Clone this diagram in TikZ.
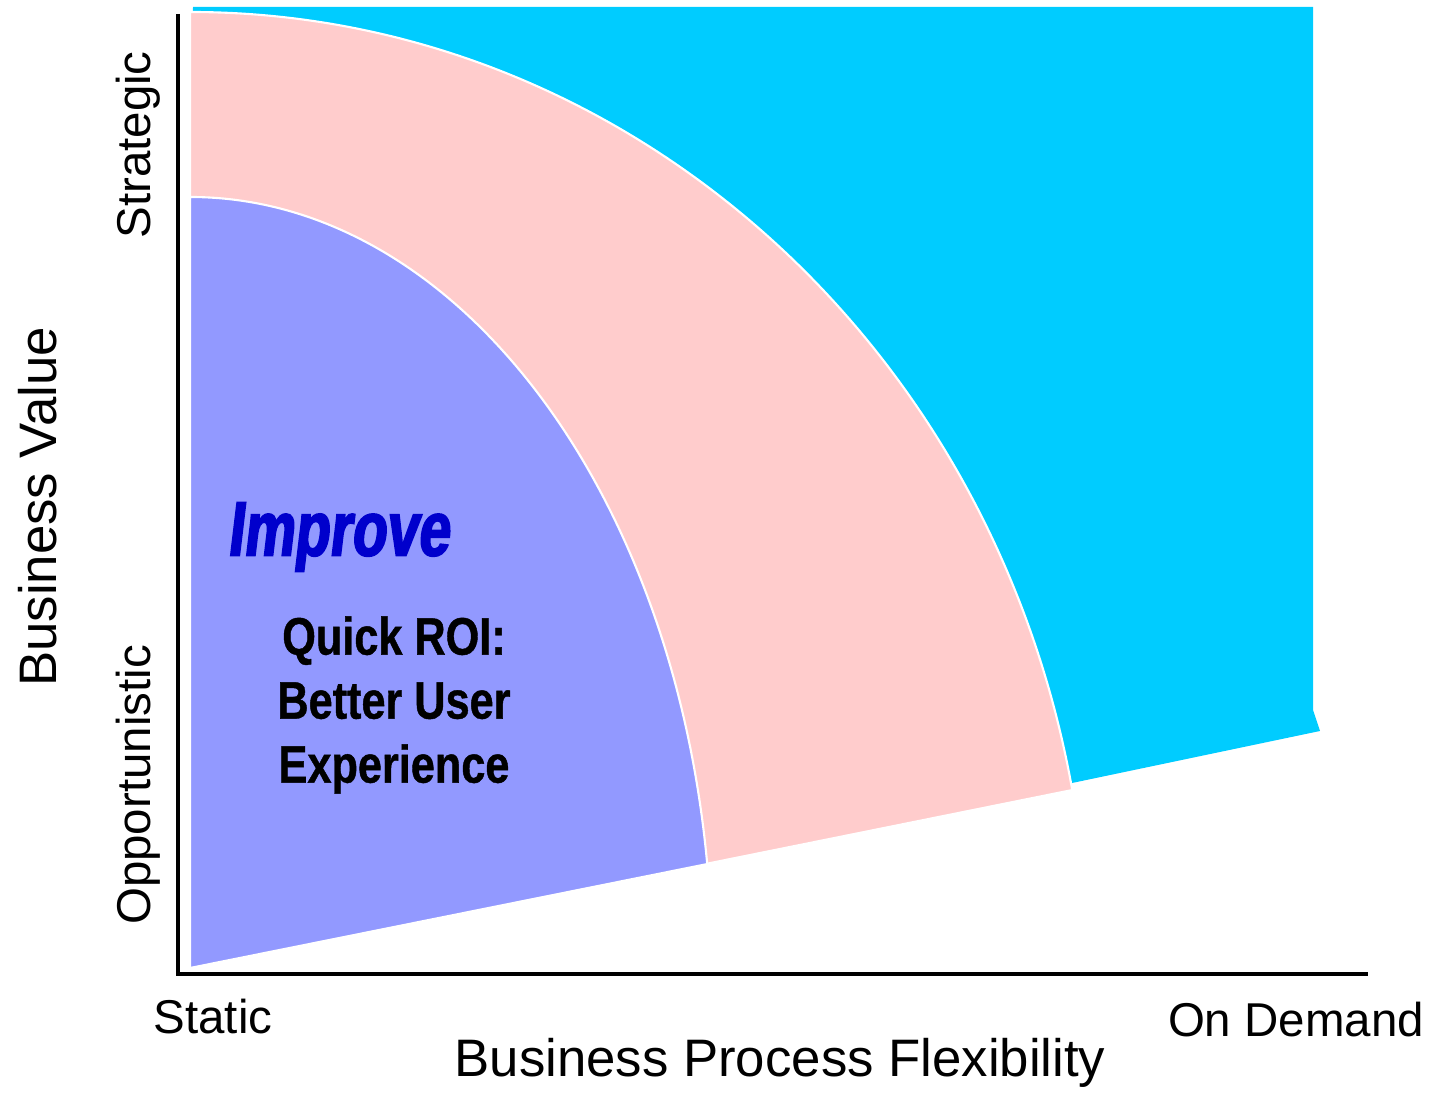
\documentclass[tikz,border=0pt]{standalone}
\usepackage{fontspec}
\setmainfont{Liberation Sans}
\newfontfamily\impfont[FakeStretch=0.74,FakeBold=2.5,FakeSlant=0.12]{Liberation Sans}
\newfontfamily\condfont[FakeStretch=0.82,FakeBold=0.8]{Liberation Sans}
\usepackage{xcolor}
\usepackage{tikz}
\usetikzlibrary{arrows, positioning}

\definecolor{skyfill}{RGB}{0,204,255}
\definecolor{pinkfill}{RGB}{255,204,204}
\definecolor{bluefill}{RGB}{146,153,255}
\definecolor{impblue}{RGB}{0,0,204}

\begin{document}
\begin{tikzpicture}[x=0.01cm,y=0.01cm,inner sep=0pt]
				\useasboundingbox (0,0) rectangle (1433,1094);
				\tikzset{region/.style={draw=white,line width=0.6pt}}
				\tikzset{axis/.style={line width=1.2pt}}
				\tikzset{ticklbl/.style={font=\fontsize{13.5}{16}\selectfont}}
				\tikzset{axlbl/.style={font=\fontsize{15}{18}\selectfont}}
				
				\coordinate (O) at (190,126);
				\coordinate (ytop) at (178,1080);
				\coordinate (orig) at (178,120);
				\coordinate (xend) at (1368,120);
				
				% regions
				\fill[skyfill] (193,1087) -- (1313,1087) -- (1313,384) -- (1320,363) -- (O) -- cycle;
				\filldraw[region,fill=pinkfill] (O) -- ++(10.73:898 and 956)
					arc[start angle=10.73,end angle=90,x radius=898,y radius=956] -- cycle;
				\filldraw[region,fill=bluefill] (O) -- ++(7.75:522 and 771)
					arc[start angle=7.75,end angle=90,x radius=522,y radius=771] -- cycle;
				
				\draw[axis] (ytop) -- (orig) -- (xend);
				
				\node[ticklbl,rotate=90] (strat) at (138,949) {Strategic};
				\node[ticklbl,rotate=90] (opp) at (138,309) {Opportunistic};
				\node[axlbl,rotate=90] (bval) at (38,587) {Business Value};
				\node[ticklbl] (static) at (213,77) {Static};
				\node[ticklbl] (demand) at (1296,74) {On Demand};
				\node[axlbl] (flex) at (780,31) {Business Process Flexibility};
				
				\node[font=\impfont\bfseries\fontsize{21.9}{24}\selectfont,text=impblue] (improve) at (338,557) {Improve};
				\node[font=\condfont\bfseries\fontsize{15}{18.2}\selectfont,align=center] (roi) at (394,389) {Quick ROI:\\Better User\\Experience};
			\end{tikzpicture}
\end{document}
